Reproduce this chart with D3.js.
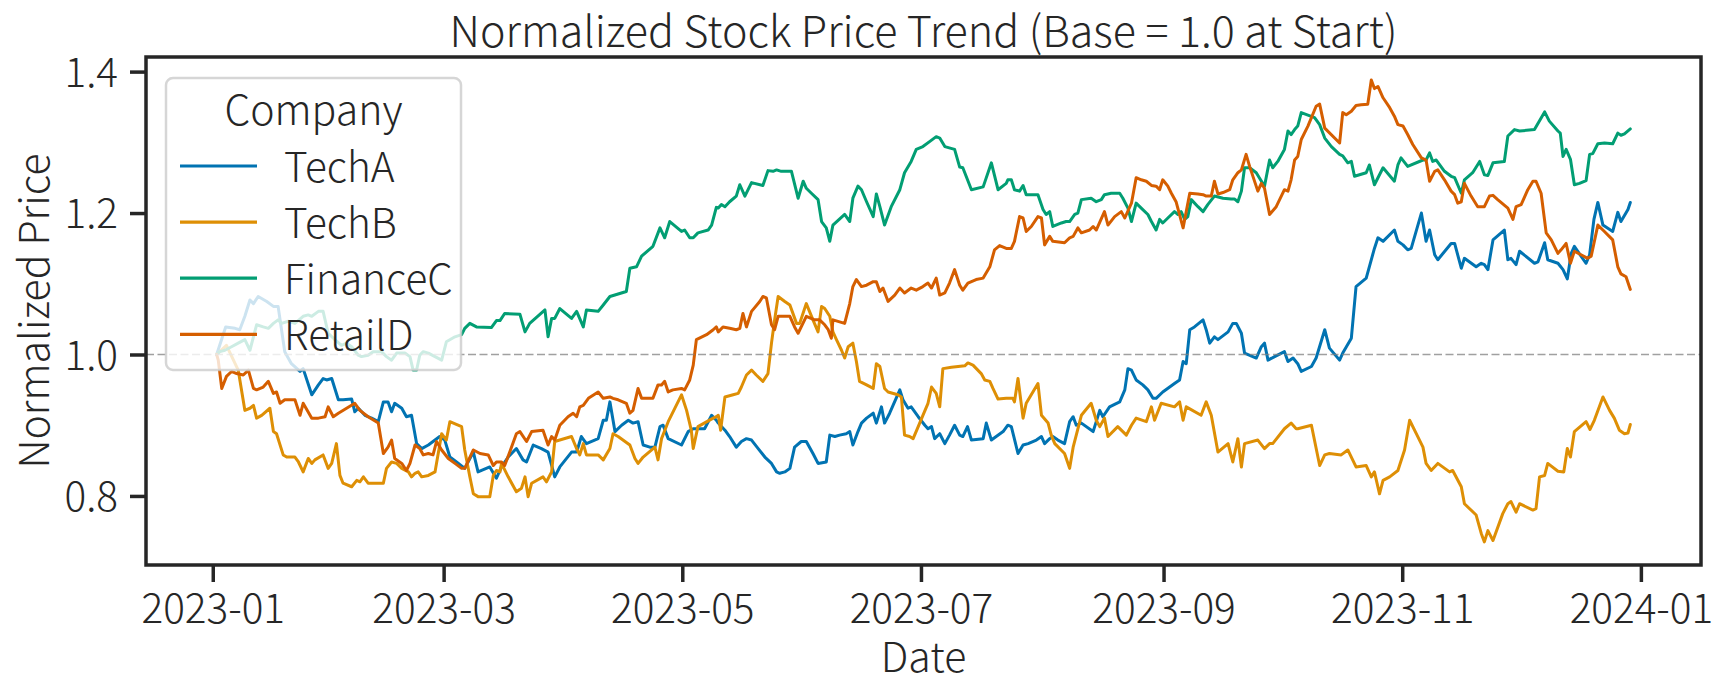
<!DOCTYPE html>
<html><head><meta charset="utf-8">
<script src="https://cdn.jsdelivr.net/npm/d3@7"></script>
<style>
body{margin:0;background:#fff;}
svg{display:block;font-family:"Noto Sans CJK KR","Noto Sans CJK JP","Noto Sans",sans-serif;font-weight:300;}
</style></head><body>
<svg id="chart" width="1734" height="691"></svg>
<script>
// ---- data (x = days since 2023-01-01, y = normalized price) ----
const companies = ["TechA", "TechB", "FinanceC", "RetailD"];
const palette = ["#0173b2", "#de8f05", "#029e73", "#d55e00"];
const yTickValues = [0.8, 1.0, 1.2, 1.4];
const xTickLabels = ["2023-01","2023-03","2023-05","2023-07","2023-09","2023-11","2024-01"];
const chartTitle = "Normalized Stock Price Trend (Base = 1.0 at Start)";

const techA = [[1.0,1.000],[3.3,1.039],[5.7,1.037],[6.9,1.035],[8.2,1.054],[9.5,1.077],[10.4,1.072],[11.6,1.082],[13.8,1.075],[15.5,1.068],[16.7,1.068],[18.4,1.004],[20.1,0.987],[22.3,0.976],[23.1,0.980],[25.3,0.943],[27.0,0.957],[28.2,0.966],[29.1,0.964],[30.4,0.966],[32.1,0.936],[33.3,0.936],[35.5,0.937],[36.3,0.919],[37.2,0.924],[38.9,0.914],[40.6,0.910],[42.3,0.905],[43.6,0.933],[44.8,0.933],[45.7,0.919],[46.5,0.931],[48.3,0.924],[49.5,0.912],[50.8,0.914],[52.1,0.874],[53.4,0.867],
[55.1,.872],[56.8,.879],[58.0,.884],[59.3,.879],[60.6,.855],[62.3,.848],[64.4,.839],[66.6,.862],[67.8,.834],[70.8,.841],[72.5,.825],[73.8,.841],[75.5,.855],[77.6,.867],[79.3,.851],[80.2,.848],[81.9,.872],[84.0,.867],[85.7,.862],[87.4,.827],[88.7,.841],[91.7,.862],[93.0,.862],[94.2,.884],[95.5,.874],[98.5,.881],[99.8,.907],[100.6,.907],[101.5,.933],[102.8,.891],[104.5,.900],[106.2,.907],[107.4,.903],[108.7,.905],[110.0,.872],[111.7,.869],[113.0,.869],[114.3,.898],[115.1,.900],[116.4,.881],[119.8,.872],[121.5,.891],[122.8,.895],[124.0,.895],[125.7,.895],[127.5,.914],[128.7,.907],
[129.2,.903],[130.9,.893],[132.1,.884],[133.8,.869],[135.1,.877],[136.4,.881],[137.7,.879],[139.4,.867],[141.1,.855],[142.8,.846],[144.1,.834],[144.9,.832],[146.2,.834],[147.5,.839],[148.7,.869],[150.4,.877],[151.7,.877],[153.4,.860],[154.7,.846],[156.8,.848],[157.7,.886],[159.0,.884],[160.2,.886],[161.9,.888],[162.8,.891],[163.6,.872],[164.9,.891],[165.8,.903],[167.1,.910],[168.8,.917],[169.6,.903],[170.9,.926],[171.7,.903],[173.0,.917],[175.6,.950],[176.4,.936],[177.7,.924],[178.5,.926],[180.3,.912],[182.0,.900],[182.8,.895],[183.7,.898],[184.5,.881],[185.8,.888],[187.1,.874],[188.3,.886],[189.6,.900],[190.9,.886],[191.7,.884],[192.9,.898],[193.9,.879],[196.9,.881],[197.7,.903],[199.0,.879],[202.0,.891],
[203.2,.900],[204.1,.898],[205.8,.860],[207.1,.872],[208.4,.874],[210.5,.879],[211.8,.884],[212.6,.874],[213.9,.881],[214.7,.884],[216.0,.879],[217.7,.874],[219.0,.905],[219.9,.912],[220.7,.900],[222.0,.903],[225.0,.891],[226.7,.921],[227.5,.912],[229.2,.926],[231.8,.933],[233.1,.950],[233.9,.980],[234.8,.978],[236.0,.964],[237.7,.957],[239.0,.950],[240.3,.938],[241.1,.938],[242.8,.947],[245.8,.959],[247.1,.964],[248.0,.990],[248.8,.987],[249.7,1.035],[250.9,1.039],[253.1,1.049],[253.9,1.035],[254.8,1.016],[256.0,1.025],[256.9,1.021],[259.5,1.032],[260.7,1.044],[261.6,1.044],[262.9,1.030],[263.7,1.002],[266.7,.995],[268.0,1.011],[268.8,1.016],[269.7,.992],[271.4,.997],[273.9,1.004],[274.8,.990],[276.1,.995],
[277.3,.987],[278.2,.976],[280.8,.983],[282.0,.995],[284.2,1.035],[285.4,1.009],[288.0,.992],[288.8,1.002],[291.0,1.023],[292.2,1.096],[294.8,1.108],[296.9,1.150],[297.8,1.165],[299.1,1.160],[302.0,1.176],[302.9,1.160],[304.2,1.155],[305.4,1.148],[306.3,1.150],[308.9,1.200],[310.1,1.160],[311.0,1.176],[312.3,1.141],[313.1,1.134],[316.5,1.157],[317.4,1.157],[319.1,1.122],[319.9,1.136],[322.9,1.124],[324.2,1.129],[325.0,1.127],[325.9,1.120],[327.2,1.162],[330.1,1.176],[331.0,1.134],[331.8,1.136],[333.1,1.127],[334.0,1.146],[337.8,1.129],[338.7,1.131],[340.4,1.158],[341.2,1.134],
[343.8,1.129],[345.1,1.120],[346.2,1.107],[347.2,1.143],[348.0,1.153],[349.7,1.139],[351.0,1.129],[351.9,1.141],[353.0,1.191],[354.0,1.215],[355.3,1.183],[357.8,1.174],[359.1,1.201],[359.9,1.188],[361.7,1.205],[362.3,1.215]];

const techB = [[1.0,1.000],[3.5,1.013],[6.5,0.978],[8.2,0.921],[9.5,0.924],[10.4,0.928],[11.2,0.910],[12.5,0.914],[14.6,0.924],[15.5,0.891],[16.3,0.888],[18.0,0.858],[18.9,0.855],[21.0,0.855],[21.9,0.848],[23.1,0.834],[24.4,0.853],[25.3,0.846],[26.1,0.851],[28.2,0.858],[29.5,0.839],[30.4,0.846],[31.6,0.874],[32.5,0.829],[33.3,0.818],[35.5,0.813],[36.8,0.822],[37.6,0.820],[38.5,0.827],[39.7,0.818],[41.9,0.818],[43.6,0.818],[44.4,0.839],[45.7,0.848],[47.0,0.846],[48.3,0.839],[50.0,0.834],[50.8,0.827],[51.7,0.832],[52.5,0.834],[53.4,0.827],
[55.1,.829],[56.8,.834],[58.5,.888],[59.7,.879],[60.6,.905],[63.6,.898],[64.4,.865],[65.7,.827],[66.6,.803],[67.8,.799],[70.8,.799],[71.7,.829],[72.5,.836],[73.4,.834],[73.8,.846],[75.5,.827],[77.6,.806],[78.9,.811],[79.8,.827],[80.6,.799],[81.5,.818],[84.4,.827],[85.3,.820],[86.6,.834],[87.4,.877],[91.7,.884],[93.0,.867],[93.8,.858],[94.7,.874],[95.5,.858],[98.5,.858],[99.8,.851],[101.5,.867],[102.3,.888],[103.6,.884],[106.6,.872],[107.9,.853],[108.7,.846],[110.0,.855],[113.0,.869],[113.8,.851],[114.7,.881],[116.4,.905],[119.8,.943],[121.1,.921],[122.3,.893],[122.8,.867],[124.0,.898],[127.9,.910],[128.7,.912],
[129.2,.914],[129.8,.893],[130.9,.940],[133.0,.943],[134.3,.945],[135.1,.954],[136.4,.971],[137.7,.978],[138.9,.971],[140.6,.962],[141.9,.973],[142.8,1.016],[143.6,1.049],[144.5,1.082],[146.2,1.075],[147.5,1.070],[149.2,1.044],[150.0,1.044],[151.7,1.072],[153.4,1.049],[154.7,1.032],[155.6,1.068],[156.4,1.065],[157.7,1.054],[158.5,1.032],[159.4,1.021],[160.7,1.006],[161.5,.995],[162.4,1.011],[163.6,1.016],[164.5,.990],[165.3,.962],[167.1,.957],[168.8,.952],[169.6,.987],[170.5,.983],[171.7,.952],[172.6,.947],[175.1,.943],[176.0,.940],[176.8,.886],[178.1,.884],[179.0,.881],[180.3,.898],[181.5,.914],[182.8,.931],[183.7,.954],[184.9,.945],[185.8,.926],[186.6,.980],[188.8,.982],[192.2,.984],[193.0,.988],[194.3,.985],[196.4,.973],[197.3,.964],[198.6,.962],[199.4,.952],[200.7,.937],[202.8,.938],
[203.2,.938],[204.5,.938],[204.9,.933],[205.8,.966],[207.1,.910],[207.9,.931],[210.9,.959],[211.8,.914],[213.5,.903],[214.3,.886],[215.2,.874],[217.7,.860],[219.0,.839],[219.9,.869],[222.0,.914],[224.5,.931],[225.8,.907],[226.7,.898],[227.9,.910],[228.8,.884],[231.3,.898],[233.5,.886],[234.8,.900],[236.0,.910],[238.6,.905],[239.9,.926],[240.7,.907],[242.4,.931],[245.8,.926],[247.1,.933],[248.0,.907],[248.8,.926],[252.6,.914],[253.9,.933],[255.2,.914],[256.9,.862],[259.5,.874],[260.7,.848],[262.0,.881],[262.9,.841],[263.7,.874],[267.1,.879],[268.8,.867],[270.1,.874],[270.9,.874],[273.9,.895],[275.6,.903],[276.9,.895],
[277.3,.895],[280.8,.900],[282.9,.843],[284.2,.858],[285.4,.860],[288.4,.858],[290.1,.865],[292.2,.841],[294.8,.843],[296.1,.827],[296.9,.834],[298.2,.803],[299.1,.822],[300.8,.827],[302.9,.836],[304.6,.865],[305.9,.907],[307.6,.888],[309.3,.869],[310.1,.846],[311.4,.836],[313.1,.846],[316.1,.834],[316.9,.836],[319.1,.813],[319.9,.789],[322.9,.773],[324.2,.747],[325.0,.735],[325.9,.751],[327.2,.737],[329.7,.775],[331.0,.789],[331.8,.792],[333.1,.777],[334.0,.789],[337.4,.780],[338.2,.782],[339.1,.827],[340.4,.829],[341.2,.846],
[343.8,.835],[345.3,.834],[346.2,.867],[347.0,.855],[348.0,.891],[351.0,.905],[352.0,.894],[353.1,.907],[355.3,.940],[357.0,.921],[358.2,.910],[359.5,.893],[360.8,.888],[361.7,.889],[362.3,.901]];

const financeC = [[1.0,1.000],[1.8,1.004],[3.1,1.006],[4.8,1.011],[6.5,1.016],[8.2,1.021],[9.5,1.006],[11.2,1.042],[12.9,1.039],[14.2,1.037],[15.5,1.044],[16.7,1.049],[17.6,1.044],[19.3,1.047],[21.0,1.044],[23.1,1.054],[24.4,1.056],[25.3,1.054],[27.0,1.061],[28.2,1.061],[29.5,1.030],[31.2,1.021],[32.9,1.013],[34.2,1.016],[35.5,1.011],[37.2,0.999],[38.0,0.997],[39.7,0.999],[41.0,1.004],[43.1,1.004],[44.4,0.997],[45.7,0.992],[47.0,1.002],[49.1,1.002],[50.4,0.997],[51.2,0.978],[52.1,0.978],[52.9,0.999],[53.8,1.004],
[55.1,1.002],[56.8,.997],[58.5,.992],[59.7,1.018],[61.9,1.025],[63.6,1.028],[64.4,1.037],[65.7,1.044],[67.4,1.039],[71.2,1.038],[72.5,1.048],[73.4,1.048],[74.6,1.058],[78.5,1.057],[79.8,1.032],[81.0,1.044],[84.9,1.063],[85.7,1.025],[86.6,1.051],[87.4,1.051],[88.7,1.065],[91.7,1.051],[93.0,1.061],[94.7,1.039],[95.5,1.063],[98.5,1.061],[99.8,1.070],[101.5,1.082],[105.7,1.089],[106.6,1.122],[108.3,1.124],[109.6,1.139],[112.5,1.153],[114.3,1.179],[115.5,1.165],[116.8,1.188],[119.8,1.174],[120.6,1.176],[121.9,1.165],[122.8,1.165],[124.0,1.172],[126.6,1.176],[127.5,1.183],[128.7,1.208],
[129.2,1.207],[130.0,1.212],[130.9,1.209],[132.1,1.216],[133.8,1.224],[134.7,1.240],[136.0,1.224],[137.7,1.243],[140.6,1.239],[141.9,1.260],[143.2,1.259],[144.1,1.261],[145.3,1.259],[147.9,1.259],[149.6,1.221],[150.9,1.245],[151.7,1.235],[153.0,1.228],[154.7,1.219],[155.6,1.188],[156.8,1.179],[157.7,1.160],[158.5,1.183],[161.5,1.198],[162.8,1.188],[163.6,1.221],[164.9,1.238],[165.8,1.233],[167.1,1.216],[168.8,1.195],[169.6,1.227],[170.5,1.209],[171.7,1.183],[173.4,1.209],[175.6,1.233],[176.8,1.257],[178.5,1.273],[179.8,1.290],[181.5,1.294],[183.2,1.301],[184.9,1.308],[185.8,1.306],[187.1,1.294],[189.6,1.290],[190.9,1.265],[191.7,1.264],[193.9,1.233],[196.9,1.237],[199.0,1.271],[200.7,1.233],[202.8,1.242],
[203.2,1.247],[204.1,1.247],[204.9,1.233],[206.2,1.231],[207.1,1.239],[207.9,1.226],[209.6,1.226],[210.9,1.226],[212.2,1.205],[213.0,1.198],[213.9,1.202],[214.7,1.181],[216.9,1.186],[218.1,1.188],[219.0,1.188],[220.3,1.198],[221.1,1.200],[222.0,1.219],[224.5,1.221],[225.8,1.216],[227.1,1.219],[227.9,1.226],[229.6,1.228],[231.8,1.228],[232.6,1.221],[233.9,1.207],[234.8,1.188],[236.0,1.214],[237.3,1.207],[239.0,1.198],[239.9,1.188],[241.1,1.176],[242.0,1.191],[242.8,1.186],[244.1,1.193],[245.8,1.202],[246.7,1.198],[247.5,1.202],[248.4,1.191],[249.2,1.195],[250.1,1.219],[251.8,1.209],[253.1,1.202],[254.3,1.212],[256.0,1.224],[258.2,1.221],[260.3,1.220],[261.1,1.220],[262.0,1.216],[262.9,1.231],[263.7,1.264],[265.0,1.264],[266.7,1.257],[268.8,1.238],[270.1,1.275],[270.9,1.264],[272.2,1.273],[273.9,1.290],[274.8,1.316],[275.6,1.311],[276.5,1.318],
[277.3,1.323],[278.2,1.342],[281.6,1.335],[282.9,1.325],[284.2,1.306],[285.9,1.294],[288.0,1.283],[288.8,1.281],[290.1,1.271],[291.0,1.273],[291.8,1.252],[294.8,1.257],[295.6,1.268],[296.9,1.240],[299.1,1.264],[302.0,1.245],[302.9,1.268],[303.7,1.278],[305.4,1.266],[309.3,1.275],[310.1,1.275],[311.0,1.285],[311.8,1.273],[312.7,1.275],[314.8,1.259],[316.5,1.252],[317.4,1.250],[319.1,1.228],[319.9,1.247],[322.0,1.257],[323.8,1.273],[325.0,1.254],[325.9,1.253],[327.2,1.271],[330.1,1.273],[331.0,1.309],[332.7,1.318],[334.0,1.316],[337.8,1.318],[340.4,1.343],[341.6,1.330],
[343.8,1.316],[344.4,1.313],[345.1,1.280],[345.9,1.290],[347.0,1.276],[348.0,1.240],[349.3,1.242],[351.0,1.246],[351.9,1.283],[352.7,1.284],[354.0,1.298],[355.7,1.299],[357.8,1.298],[359.1,1.313],[359.9,1.310],[360.8,1.312],[362.3,1.319]];

const retailD = [[1.0,1.000],[1.4,0.992],[2.3,0.952],[3.5,0.969],[4.8,0.976],[6.1,0.973],[7.8,0.971],[9.1,0.978],[10.4,0.952],[11.2,0.950],[12.9,0.954],[14.2,0.962],[15.5,0.945],[16.3,0.947],[17.2,0.931],[18.4,0.936],[21.0,0.936],[22.3,0.914],[23.1,0.931],[25.3,0.910],[27.0,0.910],[28.7,0.912],[29.5,0.926],[30.8,0.912],[32.1,0.917],[34.2,0.924],[36.3,0.931],[37.6,0.921],[39.7,0.912],[42.3,0.903],[43.6,0.860],[44.8,0.869],[45.7,0.879],[46.5,0.853],[48.3,0.846],[49.5,0.836],[50.4,0.846],[51.7,0.872],[52.9,0.867],[53.8,0.858],
[55.1,.860],[56.3,.858],[57.2,.877],[58.5,.865],[60.2,.853],[61.9,.846],[63.6,.839],[64.4,.839],[66.6,.865],[68.3,.860],[70.4,.858],[71.7,.843],[72.5,.848],[73.8,.848],[74.6,.843],[75.9,.862],[77.6,.888],[78.5,.891],[80.2,.877],[81.5,.891],[84.4,.893],[85.7,.872],[86.6,.884],[87.4,.879],[88.7,.900],[90.8,.912],[92.1,.917],[93.0,.912],[93.8,.926],[94.7,.928],[96.0,.938],[98.5,.947],[99.8,.938],[101.5,.940],[102.3,.938],[103.6,.936],[105.7,.931],[106.6,.917],[107.4,.921],[108.7,.952],[109.6,.938],[112.5,.938],[113.8,.957],[114.7,.957],[115.5,.962],[116.4,.947],[117.6,.950],[119.8,.952],[120.6,.950],[121.9,.964],[122.8,.985],[123.6,1.021],[126.2,1.028],[127.9,1.035],[128.7,1.039],
[129.2,1.032],[130.4,1.039],[132.1,1.037],[133.8,1.035],[134.7,1.037],[135.5,1.058],[136.4,1.039],[137.7,1.061],[139.8,1.075],[140.6,1.082],[141.5,1.080],[142.8,1.042],[143.6,1.035],[144.5,1.054],[147.5,1.054],[148.7,1.039],[149.6,1.030],[151.7,1.054],[153.8,1.049],[155.1,1.049],[156.4,1.042],[157.3,1.035],[158.1,1.023],[158.5,1.049],[161.5,1.044],[162.8,1.072],[163.6,1.096],[164.5,1.106],[165.8,1.096],[167.1,1.098],[168.8,1.103],[169.6,1.103],[170.5,1.089],[171.3,1.094],[172.6,1.075],[174.3,1.084],[175.6,1.094],[176.8,1.087],[178.5,1.094],[179.8,1.091],[181.5,1.096],[182.8,1.101],[183.7,1.094],[184.9,1.108],[185.8,1.084],[187.1,1.087],[188.3,1.101],[189.6,1.120],[190.9,1.098],[191.7,1.091],[193.0,1.101],[195.1,1.106],[196.9,1.108],[198.6,1.124],[199.8,1.148],[201.1,1.154],[202.8,1.150],
[203.2,1.150],[204.1,1.150],[204.9,1.160],[206.2,1.195],[207.1,1.193],[207.9,1.174],[209.2,1.181],[210.9,1.195],[211.8,1.193],[212.6,1.155],[213.9,1.167],[214.7,1.160],[217.7,1.158],[219.0,1.165],[219.9,1.167],[221.1,1.179],[222.0,1.172],[224.1,1.176],[225.0,1.181],[225.8,1.176],[227.9,1.202],[228.8,1.183],[230.5,1.195],[232.2,1.202],[233.1,1.193],[234.8,1.214],[236.0,1.250],[237.3,1.247],[238.6,1.245],[239.9,1.239],[241.1,1.238],[242.0,1.233],[242.8,1.247],[244.1,1.238],[245.0,1.228],[246.2,1.216],[248.0,1.179],[249.7,1.228],[251.8,1.227],[253.1,1.226],[253.9,1.224],[255.2,1.224],[256.0,1.245],[256.9,1.227],[258.2,1.229],[259.9,1.233],[260.7,1.247],[262.0,1.257],[262.9,1.261],[264.1,1.283],[265.0,1.266],[267.1,1.231],[268.0,1.242],[268.8,1.235],[270.1,1.198],[271.8,1.209],[273.9,1.233],[274.8,1.231],[275.6,1.247],[276.5,1.275],
[277.3,1.280],[278.2,1.304],[279.9,1.323],[282.0,1.351],[282.9,1.354],[284.2,1.320],[288.0,1.299],[288.8,1.342],[289.7,1.339],[291.0,1.344],[292.2,1.352],[293.5,1.353],[295.2,1.354],[296.1,1.388],[296.9,1.376],[297.8,1.379],[299.1,1.363],[300.8,1.349],[302.0,1.337],[302.9,1.325],[304.2,1.323],[305.4,1.311],[306.7,1.297],[308.9,1.278],[310.1,1.275],[311.0,1.245],[312.3,1.259],[313.1,1.261],[314.8,1.247],[316.5,1.231],[317.4,1.226],[318.2,1.214],[319.1,1.216],[319.9,1.242],[321.6,1.224],[323.3,1.209],[325.0,1.209],[326.3,1.224],[327.2,1.225],[328.4,1.219],[331.0,1.207],[332.3,1.191],[333.1,1.209],[334.4,1.212],[336.1,1.233],[337.4,1.245],[338.2,1.245],[339.5,1.228],[340.8,1.172],[342.1,1.162],
[343.8,1.143],[344.6,1.148],[345.9,1.157],[347.0,1.129],[348.0,1.146],[349.7,1.141],[351.4,1.136],[352.3,1.139],[354.0,1.183],[355.3,1.176],[357.8,1.162],[359.1,1.124],[359.9,1.114],[361.2,1.110],[362.3,1.092]];

const seriesPoints = [techA, techB, financeC, retailD];

// ---- drawing ----
const START = new Date(2023, 0, 1);
const toDate = d => new Date(START.getTime() + d * 86400000);
const W = 1734, H = 691;
const M = {left: 146, right: 1701, top: 57, bottom: 565};
const INK = "#262626";
const FS = 40.5, FS_TITLE = 43;

const svg = d3.select("#chart");
svg.append("rect").attr("width", W).attr("height", H).attr("fill", "#fff");

const allPts = seriesPoints.flat();
const dExt = d3.extent(allPts, p => p[0]);
const dPad = (dExt[1] - dExt[0]) * 0.05;
const x = d3.scaleTime()
  .domain([toDate(dExt[0] - dPad), toDate(dExt[1] + dPad)])
  .range([M.left, M.right]);
const vExt = d3.extent(allPts, p => p[1]);
const vPad = (vExt[1] - vExt[0]) * 0.05;
const y = d3.scaleLinear()
  .domain([vExt[0] - vPad, vExt[1] + vPad])
  .range([M.bottom, M.top]);

const line = d3.line()
  .x(p => x(toDate(p[0])))
  .y(p => y(p[1]));

svg.append("g").selectAll("path")
  .data(seriesPoints)
  .join("path")
  .attr("d", d => line(d))
  .attr("fill", "none")
  .attr("stroke", (d, i) => palette[i])
  .attr("stroke-width", 3)
  .attr("stroke-linejoin", "round")
  .attr("stroke-linecap", "round");

// reference line at 1.0
svg.append("line")
  .attr("x1", M.left).attr("x2", M.right)
  .attr("y1", y(1.0)).attr("y2", y(1.0))
  .attr("stroke", "#808080").attr("stroke-opacity", 0.75)
  .attr("stroke-width", 1.6)
  .attr("stroke-dasharray", "8,3.5");

// axes
const xTickDates = xTickLabels.map(s => d3.timeParse("%Y-%m")(s));
const gx = svg.append("g")
  .attr("transform", `translate(0,${M.bottom})`)
  .call(d3.axisBottom(x).tickValues(xTickDates).tickFormat(d3.timeFormat("%Y-%m")).tickSize(17).tickPadding(10));
gx.attr("font-family", null).attr("font-size", null);
gx.select(".domain").remove();
gx.selectAll(".tick line").attr("stroke", INK).attr("stroke-width", 3.5);
gx.selectAll(".tick text").attr("fill", INK).attr("font-size", FS)
  .attr("dy", 0).attr("y", 58);

const gy = svg.append("g")
  .attr("transform", `translate(${M.left},0)`)
  .call(d3.axisLeft(y).tickValues(yTickValues).tickFormat(d3.format(".1f")).tickSize(16).tickPadding(12));
gy.attr("font-family", null).attr("font-size", null);
gy.select(".domain").remove();
gy.selectAll(".tick line").attr("stroke", INK).attr("stroke-width", 3.5);
gy.selectAll(".tick text").attr("fill", INK).attr("font-size", FS)
  .attr("dy", "0.36em");

// frame (all four spines)
svg.append("rect")
  .attr("x", M.left).attr("y", M.top)
  .attr("width", M.right - M.left).attr("height", M.bottom - M.top)
  .attr("fill", "none").attr("stroke", INK).attr("stroke-width", 3.5);

// title and axis labels
svg.append("text").attr("x", (M.left + M.right) / 2).attr("y", 46.5)
  .attr("text-anchor", "middle").attr("font-size", FS_TITLE).attr("fill", INK)
  .text(chartTitle);
svg.append("text").attr("x", (M.left + M.right) / 2).attr("y", 672)
  .attr("text-anchor", "middle").attr("font-size", 41).attr("fill", INK)
  .text("Date");
svg.append("text")
  .attr("transform", `translate(49,${(M.top + M.bottom) / 2}) rotate(-90)`)
  .attr("text-anchor", "middle").attr("font-size", 41).attr("fill", INK)
  .text("Normalized Price");

// legend
const lg = svg.append("g");
lg.append("rect").attr("x", 166).attr("y", 78).attr("width", 295).attr("height", 292)
  .attr("rx", 7).attr("fill", "#fff").attr("fill-opacity", 0.8)
  .attr("stroke", "#cccccc").attr("stroke-opacity", 0.8).attr("stroke-width", 2.5);
lg.append("text").attr("x", 313.5).attr("y", 125).attr("text-anchor", "middle")
  .attr("font-size", 41).attr("fill", INK).text("Company");
const items = lg.selectAll("g.item").data(companies).join("g").attr("class", "item")
  .attr("transform", (d, i) => `translate(0,${i * 56.1})`);
items.append("line").attr("x1", 180).attr("x2", 257).attr("y1", 166).attr("y2", 166)
  .attr("stroke", (d, i) => palette[i]).attr("stroke-width", 3.2);
items.append("text").attr("x", 284).attr("y", 181.7).attr("font-size", FS).attr("fill", INK)
  .text(d => d);
</script>
</body></html>
